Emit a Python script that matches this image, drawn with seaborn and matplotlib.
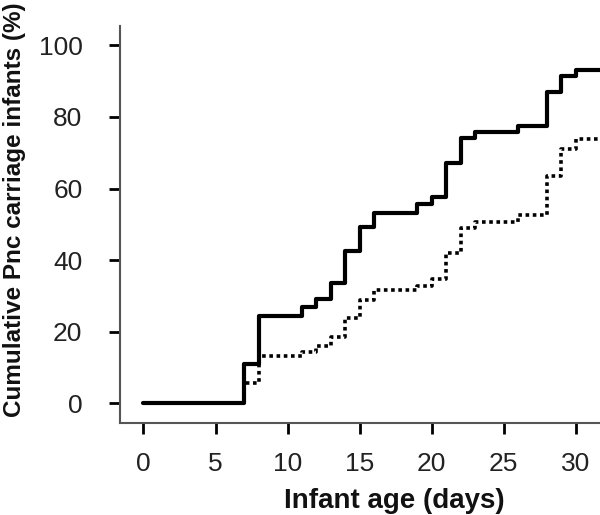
import matplotlib
matplotlib.use("Agg")
import matplotlib.pyplot as plt
import pandas as pd
import seaborn as sns

# infant age (days) at each step of the cumulative curves
days = [0, 7, 8, 11, 12, 13, 14, 15, 16, 19, 20, 21, 22, 23, 26, 28, 29, 30, 32]
solid_pct = [0, 11, 24.5, 26.8, 29.1, 33.7, 42.5, 49.2, 53.2, 55.7, 57.7,
             67.0, 74.0, 75.9, 77.5, 86.9, 91.4, 93.1, 93.1]
dotted_pct = [0, 5.6, 13.2, 14.4, 16.0, 18.6, 23.9, 28.9, 31.6, 32.8, 34.7,
              42.1, 48.9, 50.7, 52.6, 63.5, 71.0, 73.7, 73.7]
x_ticks = [0, 5, 10, 15, 20, 25, 30]
y_ticks = [0, 20, 40, 60, 80, 100]

sns.set_style("ticks")
plt.rcParams["font.family"] = ["Liberation Sans", "DejaVu Sans"]
plt.rcParams["text.color"] = "#111111"
plt.rcParams["axes.labelcolor"] = "#111111"
plt.rcParams["xtick.labelcolor"] = "#222222"
plt.rcParams["ytick.labelcolor"] = "#222222"

solid = pd.DataFrame({"day": days, "pct": solid_pct})
dotted = pd.DataFrame({"day": days, "pct": dotted_pct})

fig = plt.figure(figsize=(6, 5.15), dpi=100)
ax = fig.add_axes([120 / 600, 92 / 515, 480 / 600, 397 / 515])

sns.lineplot(data=dotted, x="day", y="pct", ax=ax, drawstyle="steps-post",
             color="black", linewidth=2.6, linestyle=(0, (1, 1)),
             dash_capstyle="butt", estimator=None)
sns.lineplot(data=solid, x="day", y="pct", ax=ax, drawstyle="steps-post",
             color="black", linewidth=3.0, estimator=None)

ax.set_xlim(-1.63, 31.68)
ax.set_ylim(-5.5, 105.4)
ax.set_xticks(x_ticks)
ax.set_yticks(y_ticks)

for side in ["top", "right"]:
    ax.spines[side].set_visible(False)
for side in ["left", "bottom"]:
    ax.spines[side].set_color("#555555")
    ax.spines[side].set_linewidth(1.5)

ax.tick_params(axis="both", length=8, width=2, color="black",
               labelsize=19)
ax.tick_params(axis="x", pad=13)
ax.tick_params(axis="y", pad=19)
ax.set_xlabel("Infant age (days)", fontsize=20, fontweight="bold")
ax.set_ylabel("Cumulative Pnc carriage infants (%)", fontsize=17.5,
              fontweight="bold")
ax.xaxis.set_label_coords((394 - 120) / 480, (423 - 514) / 397)
ax.yaxis.set_label_coords((3 - 120) / 480, (423 - 210) / 397)
ax.xaxis.label.set_verticalalignment("bottom")
ax.yaxis.label.set_verticalalignment("top")

fig.savefig("out.png", dpi=100)
